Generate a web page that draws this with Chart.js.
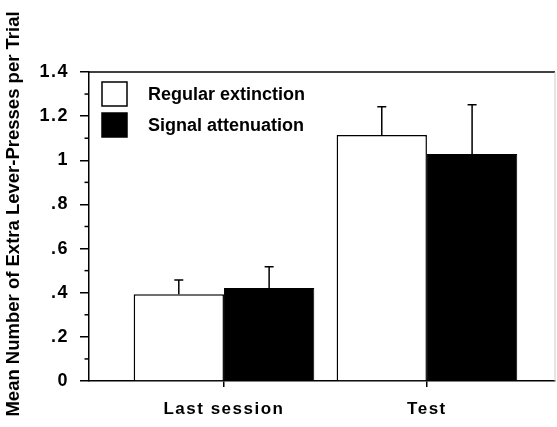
<!DOCTYPE html>
<html>
<head>
<meta charset="utf-8">
<script src="https://cdn.jsdelivr.net/npm/chart.js@4/dist/chart.umd.min.js"></script>
<style>
    body { margin: 0; background: #fff; }
    #wrap { width: 557px; height: 427px; position: relative; }
</style>
</head>
<body>
<div id="wrap"><canvas id="myChart"></canvas></div>
<script>
// data
const categories = ['Last session', 'Test'];
const regularMeans = [0.393, 1.115];
const regularErr = [0.065, 0.128];
const signalMeans = [0.421, 1.029];
const signalErr = [0.097, 0.223];
const yTickValues = [0, 0.2, 0.4, 0.6, 0.8, 1, 1.2, 1.4];
const yTickLabels = ['0', '.2', '.4', '.6', '.8', '1', '1.2', '1.4'];
const legendLabels = ['Regular extinction', 'Signal attenuation'];
const yTitle = 'Mean Number of Extra Lever-Presses per Trial';

const FONT = '"Liberation Sans", Arial, sans-serif';

// error bars (upper only), minor ticks, legend, frame, y title
const extras = {
    id: 'extras',
    beforeDraw(chart) {
        // the scanned tick labels are a bit spaced out
        chart.ctx.letterSpacing = '1.5px';
    },
    afterDatasetsDraw(chart) {
        const ctx = chart.ctx;
        const y = chart.scales.y;
        const errs = [regularErr, signalErr];
        const means = [regularMeans, signalMeans];
        ctx.save();
        ctx.strokeStyle = '#000';
        ctx.lineWidth = 1.5;
        chart.data.datasets.forEach((ds, d) => {
            chart.getDatasetMeta(d).data.forEach((bar, i) => {
                const top = y.getPixelForValue(means[d][i] + errs[d][i]);
                ctx.beginPath();
                ctx.moveTo(bar.x, bar.y);
                ctx.lineTo(bar.x, top);
                ctx.moveTo(bar.x - 4.5, top);
                ctx.lineTo(bar.x + 4.5, top);
                ctx.stroke();
            });
        });
        ctx.restore();
    },
    afterDraw(chart) {
        const ctx = chart.ctx;
        const area = chart.chartArea;
        const y = chart.scales.y;
        ctx.save();
        ctx.letterSpacing = '0px';
        // top frame line and faint right edge
        ctx.strokeStyle = '#000';
        ctx.lineWidth = 1.5;
        ctx.beginPath();
        ctx.moveTo(area.left, area.top);
        ctx.lineTo(area.right, area.top);
        ctx.stroke();
        ctx.strokeStyle = '#ccc';
        ctx.lineWidth = 1;
        ctx.beginPath();
        ctx.moveTo(area.right, area.top);
        ctx.lineTo(area.right, area.bottom);
        ctx.stroke();

        // minor ticks
        ctx.strokeStyle = '#000';
        ctx.lineWidth = 1.5;
        for (let k = 0; k < yTickValues.length - 1; k++) {
            const v = (yTickValues[k] + yTickValues[k + 1]) / 2;
            const py = y.getPixelForValue(v);
            ctx.beginPath();
            ctx.moveTo(area.left - 4.5, py);
            ctx.lineTo(area.left, py);
            ctx.stroke();
        }

        // legend
        const fills = ['#fff', '#000'];
        ctx.font = 'bold 18px ' + FONT;
        ctx.textBaseline = 'middle';
        legendLabels.forEach((lab, i) => {
            const by = 82 + i * 31;
            ctx.fillStyle = fills[i];
            ctx.fillRect(102, by, 25, 24);
            ctx.strokeStyle = '#000';
            ctx.lineWidth = 1.5;
            ctx.strokeRect(102, by, 25, 24);
            ctx.fillStyle = '#000';
            ctx.fillText(lab, 148, by + 13);
        });

        // y axis title
        ctx.translate(14, 214);
        ctx.rotate(-Math.PI / 2);
        ctx.textAlign = 'center';
        ctx.font = 'bold 18.5px ' + FONT;
        ctx.fillText(yTitle, 0, 0);
        ctx.restore();
    }
};

const ctx = document.getElementById('myChart').getContext('2d');

const myChart = new Chart(ctx, {
    type: 'bar',
    data: {
        datasets: [{
            label: legendLabels[0],
            data: regularMeans.map((v, i) => ({ x: i + 1, y: v })),
            backgroundColor: '#fff',
            borderColor: '#000',
            borderWidth: 1.5
        }, {
            label: legendLabels[1],
            data: signalMeans.map((v, i) => ({ x: i + 1, y: v })),
            backgroundColor: '#000',
            borderColor: '#000',
            borderWidth: 1
        }]
    },
    options: {
        responsive: true,
        maintainAspectRatio: false,
        animation: false,
        categoryPercentage: 0.89,
        barPercentage: 1,
        layout: {
            padding: { top: 72, right: 2, left: 0, bottom: 0 }
        },
        scales: {
            x: {
                type: 'linear',
                offset: false,
                min: 0.335,
                max: 2.631,
                afterBuildTicks: (scale) => {
                    scale.ticks = categories.map((c, i) => ({ value: i + 1 }));
                },
                afterFit: (scale) => { scale.height = 46; },
                grid: {
                    offset: false,
                    drawOnChartArea: false,
                    drawTicks: true,
                    tickLength: 6,
                    color: '#000',
                    lineWidth: 1.5
                },
                border: { display: true, color: '#000', width: 1.5 },
                ticks: {
                    autoSkip: false,
                    maxRotation: 0,
                    padding: 12,
                    color: '#000',
                    font: { family: FONT, size: 17, weight: 'bold' },
                    callback: (value) => categories[Math.round(value) - 1]
                }
            },
            y: {
                min: 0,
                max: 1.4,
                afterBuildTicks: (scale) => {
                    scale.ticks = yTickValues.map(v => ({ value: v }));
                },
                afterFit: (scale) => { scale.width = 89; },
                grid: {
                    drawOnChartArea: false,
                    drawTicks: true,
                    tickLength: 9,
                    color: '#000',
                    lineWidth: 1.5
                },
                border: { display: true, color: '#000', width: 1.5 },
                ticks: {
                    padding: 11,
                    color: '#000',
                    font: { family: FONT, size: 18, weight: 'bold' },
                    callback: (value) => yTickLabels[yTickValues.indexOf(value)]
                }
            }
        },
        plugins: {
            legend: { display: false },
            tooltip: { enabled: false }
        }
    },
    plugins: [extras]
});
</script>
</body>
</html>
